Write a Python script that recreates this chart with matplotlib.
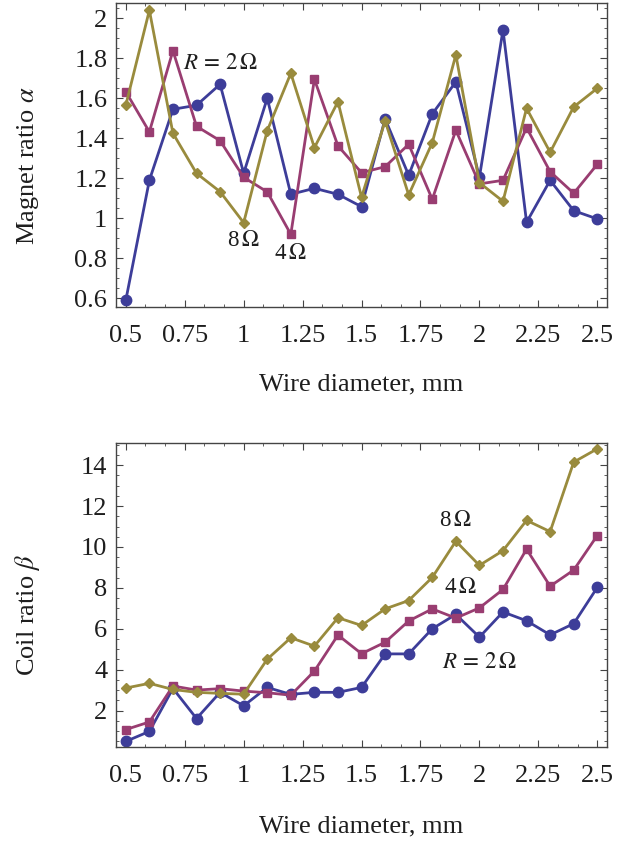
import matplotlib
matplotlib.use("Agg")
import matplotlib.pyplot as plt
from matplotlib.ticker import FixedLocator, FixedFormatter, AutoMinorLocator

plt.rcParams['font.family'] = ['Liberation Serif', 'DejaVu Serif']
plt.rcParams['mathtext.fontset'] = 'stix'

# wire diameters, mm
diameter = [0.5, 0.6, 0.7, 0.8, 0.9, 1.0, 1.1, 1.2, 1.3, 1.4, 1.5,
            1.6, 1.7, 1.8, 1.9, 2.0, 2.1, 2.2, 2.3, 2.4, 2.5]

# magnet ratio alpha for R = 2, 4, 8 Ohm
alpha_2 = [0.59, 1.19, 1.545, 1.565, 1.67, 1.225, 1.60, 1.12, 1.15, 1.12, 1.058,
           1.497, 1.215, 1.522, 1.682, 1.205, 1.942, 0.98, 1.19, 1.038, 0.997]
alpha_4 = [1.633, 1.432, 1.838, 1.46, 1.388, 1.205, 1.132, 0.92, 1.695, 1.362, 1.228,
           1.258, 1.37, 1.095, 1.44, 1.172, 1.19, 1.453, 1.233, 1.125, 1.27]
alpha_8 = [1.565, 2.04, 1.425, 1.225, 1.133, 0.978, 1.438, 1.725, 1.353, 1.583, 1.105,
           1.487, 1.117, 1.378, 1.817, 1.178, 1.085, 1.55, 1.33, 1.557, 1.65]

# coil ratio beta for R = 2, 4, 8 Ohm
beta_2 = [0.49, 0.98, 3.08, 1.61, 2.89, 2.23, 3.13, 2.79, 2.89, 2.89, 3.13,
          4.77, 4.77, 6.0, 6.70, 5.59, 6.82, 6.39, 5.70, 6.25, 8.02]
beta_4 = [1.07, 1.44, 3.2, 3.0, 3.07, 2.95, 2.87, 2.75, 3.93, 5.69, 4.78,
          5.34, 6.38, 6.97, 6.52, 7.02, 7.92, 9.89, 8.08, 8.87, 10.56]
beta_8 = [3.1, 3.33, 3.03, 2.89, 2.84, 2.8, 4.51, 5.56, 5.15, 6.54, 6.16,
          6.97, 7.38, 8.51, 10.28, 9.10, 9.82, 11.3, 10.75, 14.15, 14.8]

x_ticks = [0.5, 0.75, 1.0, 1.25, 1.5, 1.75, 2.0, 2.25, 2.5]
x_ticklabels = ['0.5', '0.75', '1', '1.25', '1.5', '1.75', '2', '2.25', '2.5']
alpha_ticks = [0.6, 0.8, 1.0, 1.2, 1.4, 1.6, 1.8, 2.0]
alpha_ticklabels = ['0.6', '0.8', '1', '1.2', '1.4', '1.6', '1.8', '2']
beta_ticks = [2, 4, 6, 8, 10, 12, 14]
beta_ticklabels = ['2', '4', '6', '8', '10', '12', '14']

blue = '#3d3d99'
magenta = '#993d71'
olive = '#998b3d'
frame = '#444444'
ink = '#1e1e1e'

fig = plt.figure(figsize=(6.32, 8.41), dpi=100)
ax1 = fig.add_axes([0.183, 0.6353, 0.777, 0.3608])
ax2 = fig.add_axes([0.183, 0.1121, 0.777, 0.3608])


def draw_series(ax, a, b, c):
    ax.plot(diameter, a, '-o', color=blue, lw=2.0, ms=7.5, mec=blue)
    ax.plot(diameter, b, '-s', color=magenta, lw=2.0, ms=6.2, mec=magenta)
    ax.plot(diameter, c, '-D', color=olive, lw=2.0, ms=5.3, mec=olive)


def style_axes(ax, yticks, ylabels, ny_minor):
    ax.xaxis.set_major_locator(FixedLocator(x_ticks))
    ax.xaxis.set_major_formatter(FixedFormatter(x_ticklabels))
    ax.xaxis.set_minor_locator(AutoMinorLocator(3))
    ax.yaxis.set_major_locator(FixedLocator(yticks))
    ax.yaxis.set_major_formatter(FixedFormatter(ylabels))
    ax.yaxis.set_minor_locator(AutoMinorLocator(ny_minor))
    ax.tick_params(which='both', direction='in', top=True, right=True,
                   color=frame, labelsize=19, labelcolor=ink)
    ax.tick_params(which='major', length=5, width=0.8)
    ax.tick_params(which='minor', length=2.5, width=0.6)
    ax.tick_params(axis='x', pad=13)
    ax.tick_params(axis='y', pad=6)
    ax.set_xlim(0.457, 2.54)
    for s in ax.spines.values():
        s.set_color(frame)
        s.set_linewidth(1.0)


r2_label = r'$R\,=\,2\,\Omega$'

draw_series(ax1, alpha_2, alpha_4, alpha_8)
style_axes(ax1, alpha_ticks, alpha_ticklabels, 4)
ax1.set_ylim(0.558, 2.075)
ax1.text(0.901, 1.776, r2_label, fontsize=16.5, ha='center', va='center', color=ink)
ax1.text(0.997, 0.891, r'8$\,\Omega$', fontsize=16.5, ha='center', va='center', color=ink)
ax1.text(1.199, 0.826, r'4$\,\Omega$', fontsize=16.5, ha='center', va='center', color=ink)

draw_series(ax2, beta_2, beta_4, beta_8)
style_axes(ax2, beta_ticks, beta_ticklabels, 4)
ax2.set_ylim(0.23, 15.07)
ax2.text(1.897, 11.28, r'8$\,\Omega$', fontsize=16.5, ha='center', va='center', color=ink)
ax2.text(1.918, 8.0, r'4$\,\Omega$', fontsize=16.5, ha='center', va='center', color=ink)
ax2.text(1.999, 4.33, r2_label, fontsize=16.5, ha='center', va='center', color=ink)

# axis titles
fig.text(0.5 * (0.183 + 0.96), 1 - 384 / 841, 'Wire diameter, mm', fontsize=19,
         ha='center', va='center', color=ink)
fig.text(0.5 * (0.183 + 0.96), 1 - 826 / 841, 'Wire diameter, mm', fontsize=19,
         ha='center', va='center', color=ink)
fig.text(28 / 632, 1 - 166 / 841, r'Magnet ratio $\alpha$', fontsize=19, rotation=90,
         ha='center', va='center', color=ink)
fig.text(28 / 632, 1 - 615 / 841, r'Coil ratio $\beta$', fontsize=19, rotation=90,
         ha='center', va='center', color=ink)

fig.savefig('out.png', dpi=100)
